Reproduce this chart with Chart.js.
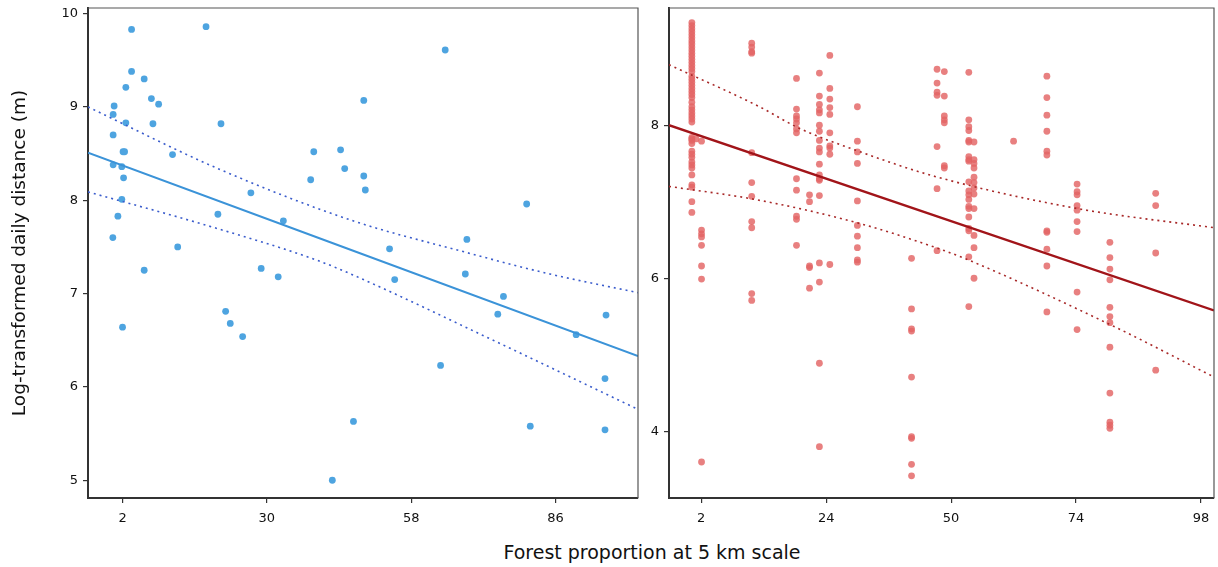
<!DOCTYPE html>
<html>
<head>
<meta charset="utf-8">
<script src="https://cdn.jsdelivr.net/npm/chart.js@4.4.1/dist/chart.umd.min.js"></script>
<style>
  body { margin: 0; background: #fff; width: 1218px; height: 567px; position: relative; overflow: hidden; font-family: 'DejaVu Sans', Verdana, sans-serif; }
  #leftChart { position: absolute; left: 0; top: 0; }
  #rightChart { position: absolute; left: 640px; top: 0; }
  #xTitle { position: absolute; left: 0; width: 1304px; top: 541px; text-align: center; font-size: 19px; color: #111; }
</style>
</head>
<body>
<canvas id="leftChart" width="645" height="530"></canvas>
<canvas id="rightChart" width="578" height="530"></canvas>
<div id="xTitle">Forest proportion at 5 km scale</div>
<script>
// --- left panel (blue) ---
const leftX = [3.75, 18.2, 3.75, 6.2, 2.64, 7.6, 9.0, 0.37, 0.18, 2.64, 7.9, 21.1, 0.18, 2.1, 2.4, 11.7, 0.18, 1.86, 2.2, 1.86,
  1.1, 0.12, 12.7, 26.9, 20.5, 33.2, 39.1, 44.3, 45.1, 38.5, 6.2, 28.9, 32.2, 2.0, 22.0, 22.9, 25.3, 46.8, 42.7, 64.6,
  48.8, 48.8, 49.1, 80.4, 68.8, 53.8, 54.8, 68.5, 75.9, 74.8, 90.0, 95.8, 63.7, 95.6, 81.1, 95.6];
const leftY = [9.83, 9.86, 9.38, 9.30, 9.21, 9.09, 9.03, 9.01, 8.92, 8.83, 8.82, 8.82, 8.70, 8.52, 8.52, 8.49, 8.38, 8.36, 8.24, 8.01,
  7.83, 7.60, 7.50, 8.08, 7.85, 7.78, 8.52, 8.54, 8.34, 8.22, 7.25, 7.27, 7.18, 6.64, 6.81, 6.68, 6.54, 5.63, 5.00, 9.61,
  9.07, 8.26, 8.11, 7.96, 7.58, 7.48, 7.15, 7.21, 6.97, 6.78, 6.56, 6.77, 6.23, 6.09, 5.58, 5.54];
const leftFitX = [-4.7, 102];
const leftFitY = [8.51, 6.33];
const leftUpperX = [-4.7, 20.9, 46.7, 67.4, 84.9, 102];
const leftUpperY = [9.00, 8.33, 7.78, 7.46, 7.21, 7.01];
const leftLowerX = [-4.7, 19.6, 39.6, 46.7, 73.9, 102];
const leftLowerY = [8.09, 7.71, 7.36, 7.20, 6.50, 5.76];
const leftXTicks = [2, 30, 58, 86];
const leftXLabels = ['2', '30', '58', '86'];
const leftYTicks = [5, 6, 7, 8, 9, 10];

// --- right panel (red), points grouped by x column ---
const rightColX = [0.2, 1.0, 2.06, 11.7, 20.3, 22.8, 24.7, 26.7, 32.0, 42.4, 47.3, 48.7, 53.4, 54.4, 62.0, 68.4, 74.2, 80.5, 89.3];
const rightColY = [
  [9.34, 9.30, 9.26, 9.22, 9.18, 9.14, 9.10, 9.06, 9.02, 8.98, 8.94, 8.90, 8.86, 8.82, 8.78, 8.74, 8.70, 8.64, 8.60, 8.56,
   8.52, 8.48, 8.44, 8.40, 8.36, 8.30, 8.24, 8.20, 8.16, 8.12, 8.08, 8.04, 7.84, 7.82, 7.80, 7.76, 7.66, 7.62, 7.58, 7.52,
   7.48, 7.44, 7.35, 7.22, 7.19, 7.00, 6.86],
  [7.82],
  [7.79, 6.63, 6.58, 6.54, 6.43, 6.16, 5.99, 3.60],
  [9.07, 9.02, 8.96, 8.94, 7.64, 7.25, 7.07, 6.74, 6.66, 5.80, 5.71],
  [8.61, 8.21, 8.12, 8.08, 8.03, 7.95, 7.90, 7.30, 7.15, 6.81, 6.77, 6.43],
  [7.09, 7.00, 6.16, 6.14, 5.87],
  [8.68, 8.38, 8.27, 8.20, 8.16, 8.00, 7.92, 7.80, 7.70, 7.65, 7.49, 7.35, 7.30, 7.28, 7.08, 6.20, 5.95, 4.89, 3.80],
  [8.91, 8.48, 8.34, 8.23, 8.14, 7.90, 7.73, 7.70, 7.62, 6.18],
  [8.24, 7.79, 7.65, 7.50, 7.01, 6.69, 6.55, 6.40, 6.24, 6.21],
  [6.26, 5.60, 5.34, 5.31, 4.71, 3.93, 3.91, 3.57, 3.42],
  [8.73, 8.55, 8.43, 8.39, 7.72, 7.17, 6.36],
  [8.70, 8.38, 8.12, 8.07, 8.03, 7.47, 7.44],
  [8.69, 8.07, 7.98, 7.93, 7.80, 7.78, 7.59, 7.55, 7.53, 7.26, 7.14, 7.09, 7.03, 6.94, 6.91, 6.80, 6.65, 6.62, 6.28, 5.63],
  [7.78, 7.55, 7.50, 7.44, 7.32, 7.25, 7.18, 7.10, 6.91, 6.56, 6.40, 6.00],
  [7.79],
  [8.64, 8.36, 8.13, 7.92, 7.66, 7.61, 6.62, 6.60, 6.38, 6.16, 5.56],
  [7.23, 7.13, 7.09, 6.95, 6.89, 6.74, 6.61, 5.82, 5.33],
  [6.47, 6.27, 6.12, 5.98, 5.62, 5.50, 5.42, 5.10, 4.50, 4.12, 4.08, 4.04],
  [7.11, 6.95, 6.33, 4.80]
];
const rightFitX = [-4.19, 100.5];
const rightFitY = [8.00, 5.58];
const rightUpperX = [-4.19, 13.2, 20.8, 32.2, 46.9, 74.3, 100.5];
const rightUpperY = [8.79, 8.24, 7.96, 7.66, 7.33, 6.91, 6.66];
const rightLowerX = [-4.19, 13.1, 32.2, 47.5, 53.3, 81.3, 100.5];
const rightLowerY = [7.20, 7.02, 6.72, 6.39, 6.24, 5.37, 4.71];
// tick marks sit evenly spaced; the source labels them 2, 24, 50, 74, 98
const rightXTicks = [2, 26, 50, 74, 98];
const rightXLabels = ['2', '24', '50', '74', '98'];
const rightYTicks = [4, 6, 8];

const FONT = "'DejaVu Sans', Verdana, sans-serif";

function pairs(xs, ys) {
    return xs.map((x, i) => ({ x: x, y: ys[i] }));
}

// draws the top and right edges of the panel box
const frame = {
    id: 'frame',
    afterDraw(chart) {
        const a = chart.chartArea;
        const c = chart.ctx;
        c.save();
        c.strokeStyle = '#555';
        c.lineWidth = 1.2;
        c.beginPath();
        c.moveTo(a.left, a.top);
        c.lineTo(a.right, a.top);
        c.lineTo(a.right, a.bottom);
        c.stroke();
        c.restore();
    }
};

function lineSet(xs, ys, color, width, dash) {
    return {
        type: 'line',
        data: pairs(xs, ys),
        borderColor: color,
        borderWidth: width,
        borderDash: dash || [],
        pointRadius: 0,
        fill: false,
        cubicInterpolationMode: 'monotone',
        order: 0
    };
}

function makeScales(xMin, xMax, xTicks, xLabels, yMin, yMax, yTicks, yWidth, yTitle) {
    const axisGrid = { display: true, drawOnChartArea: false, drawTicks: true, tickLength: 5, color: '#333', lineWidth: 1.2 };
    return {
        x: {
            type: 'linear', min: xMin, max: xMax,
            afterBuildTicks: s => { s.ticks = xTicks.map(v => ({ value: v })); },
            ticks: {
                color: '#111', font: { family: FONT, size: 13 }, maxRotation: 0, padding: 8,
                callback: v => xLabels[xTicks.indexOf(v)]
            },
            grid: axisGrid,
            border: { display: true, color: '#333', width: 2 },
            afterFit: s => { s.height = 32; s.paddingLeft = 0; s.paddingRight = 0; }
        },
        y: {
            type: 'linear', min: yMin, max: yMax,
            afterBuildTicks: s => { s.ticks = yTicks.map(v => ({ value: v })); },
            ticks: { color: '#111', font: { family: FONT, size: 13 }, padding: 5 },
            grid: axisGrid,
            border: { display: true, color: '#333', width: 2 },
            title: yTitle ? { display: true, text: yTitle, color: '#111', font: { family: FONT, size: 18.5 }, padding: { top: 9, bottom: 0 } } : { display: false },
            afterFit: s => { s.width = yWidth; s.paddingTop = 0; s.paddingBottom = 0; }
        }
    };
}

const baseOptions = {
    responsive: false,
    animation: false,
    devicePixelRatio: 1,
    plugins: { legend: { display: false }, tooltip: { enabled: false } }
};

new Chart(document.getElementById('leftChart'), {
    type: 'scatter',
    data: {
        datasets: [
            lineSet(leftFitX, leftFitY, '#3b93d8', 2),
            lineSet(leftUpperX, leftUpperY, '#3a5ccc', 1.6, [2, 4]),
            lineSet(leftLowerX, leftLowerY, '#3a5ccc', 1.6, [2, 4]),
            {
                data: pairs(leftX, leftY),
                backgroundColor: '#4ea4e0',
                borderWidth: 0,
                pointRadius: 3.4,
                order: 1
            }
        ]
    },
    options: Object.assign({}, baseOptions, {
        layout: { padding: { top: 8, right: 7, left: 0, bottom: 0 } },
        scales: makeScales(-4.7, 102, leftXTicks, leftXLabels, 4.81, 10.06, leftYTicks, 88, 'Log-transformed daily distance (m)')
    }),
    plugins: [frame]
});

const rightPoints = [];
rightColX.forEach((x, i) => {
    rightColY[i].forEach(y => rightPoints.push({ x: x, y: y }));
});

new Chart(document.getElementById('rightChart'), {
    type: 'scatter',
    data: {
        datasets: [
            lineSet(rightFitX, rightFitY, '#a11419', 2.4),
            lineSet(rightUpperX, rightUpperY, '#a82828', 1.6, [2, 4]),
            lineSet(rightLowerX, rightLowerY, '#a82828', 1.6, [2, 4]),
            {
                data: rightPoints,
                backgroundColor: 'rgba(227, 100, 100, 0.82)',
                borderWidth: 0,
                pointRadius: 3.4,
                order: 1
            }
        ]
    },
    options: Object.assign({}, baseOptions, {
        layout: { padding: { top: 8, right: 1, left: 0, bottom: 0 } },
        scales: makeScales(-4.19, 100.5, rightXTicks, rightXLabels, 3.13, 9.53, rightYTicks, 29, null)
    }),
    plugins: [frame]
});
</script>
</body>
</html>
